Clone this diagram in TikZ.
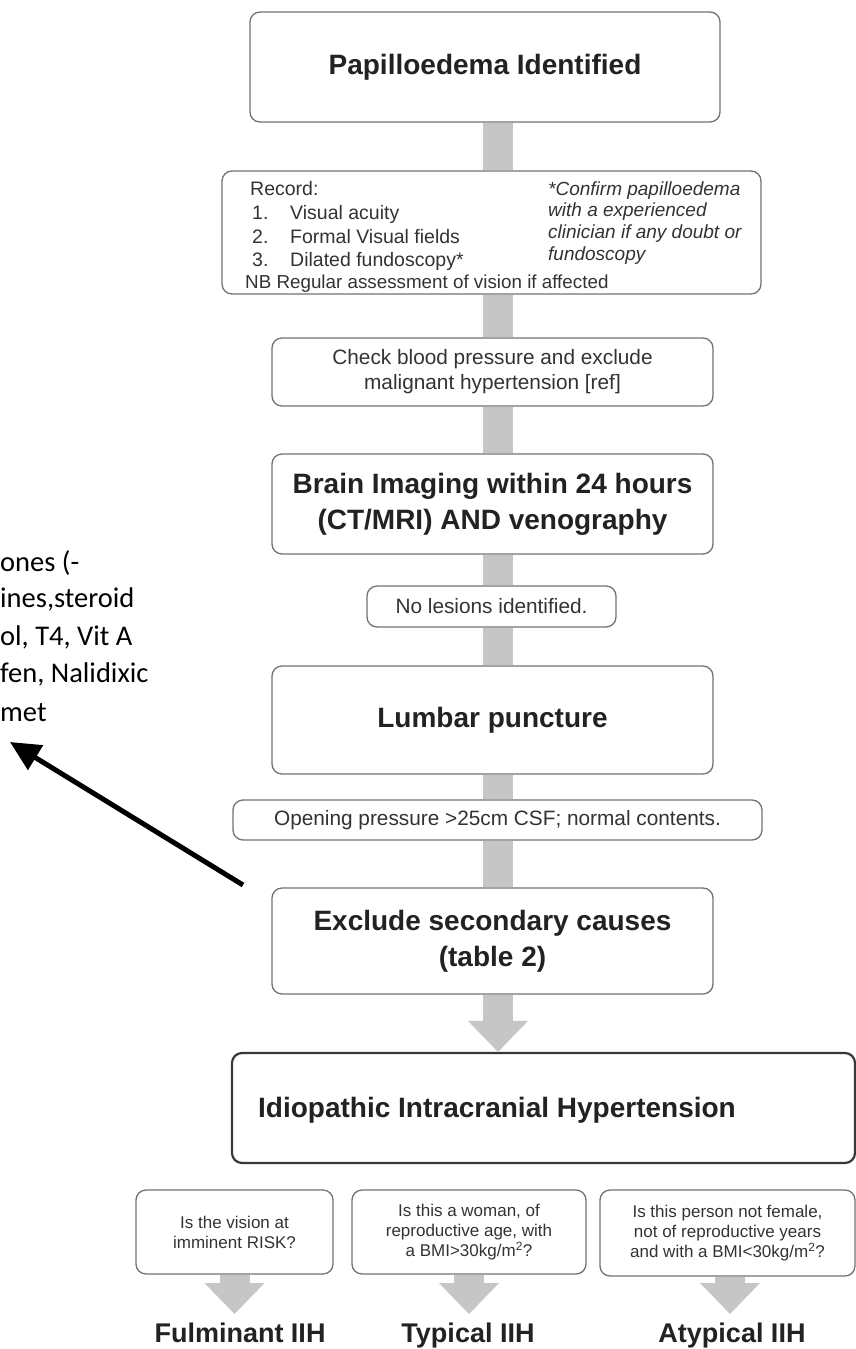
\documentclass[tikz,border=0pt]{standalone}
\usepackage{fontspec}
\setmainfont{Liberation Sans}
\newfontfamily\calib{Carlito}
\usetikzlibrary{arrows.meta,backgrounds}
\definecolor{barc}{HTML}{C6C6C6}
\definecolor{edge}{HTML}{727272}
\definecolor{txt}{HTML}{333333}
\definecolor{hd}{HTML}{222222}
\begin{document}
\begin{tikzpicture}[x=1pt,y=-1pt,
  box/.style={draw=edge, line width=1.3pt, rounded corners=10pt, fill=white, inner sep=0pt, align=center, text=txt},
  bigt/.style={font=\fontsize{28}{36}\selectfont\bfseries, text=hd},
  smallt/.style={font=\fontsize{20.8}{25}\selectfont, text=txt},
  rtext/.style={font=\fontsize{19.5}{22}\selectfont, text=txt, inner sep=0pt, anchor=base west},
  ntext/.style={font=\fontsize{18.8}{22}\selectfont, text=txt, inner sep=0pt, anchor=base west},
  itext/.style={font=\fontsize{19}{22}\selectfont\itshape, text=txt, inner sep=0pt, anchor=base west},
  qtext/.style={font=\fontsize{17}{20}\selectfont, text=txt},
  lab/.style={font=\fontsize{27}{30}\selectfont\bfseries, text=hd, inner sep=0pt, anchor=base},
  side/.style={font=\calib\fontsize{28.5}{30}\selectfont, text=black, inner sep=0pt, anchor=base west},
  bar/.style={draw=barc, line width=30pt},
  headtip/.style={-{Triangle[width=60pt,length=31pt,line width=0pt]}},
]
\useasboundingbox (0,0) rectangle (856,1349);

% main column
\node[box, minimum width=470pt, minimum height=110pt] (b1) at (485,67) {\fontsize{28}{34}\selectfont\bfseries\color{hd}Papilloedema Identified};
\node[box, minimum width=539pt, minimum height=123pt] (b2) at (491.5,232.5) {};
\node[box, smallt, minimum width=441pt, minimum height=68pt] (b3) at (492.5,372) {Check blood pressure and exclude\\malignant hypertension [ref]};
\node[box, bigt, minimum width=441pt, minimum height=100pt] (b4) at (492.5,504) {Brain Imaging within 24 hours\\(CT/MRI) AND venography};
\node[box, smallt, minimum width=249pt, minimum height=41pt] (b5) at (491.5,606.5) {No lesions identified.};
\node[box, bigt, minimum width=441pt, minimum height=108pt] (b6) at (492.5,720) {Lumbar puncture};
\node[box, smallt, minimum width=529pt, minimum height=40pt] (b7) at (497.5,820) {Opening pressure >25cm CSF; normal contents.};
\node[box, bigt, minimum width=441pt, minimum height=106pt] (b8) at (492.5,941) {Exclude secondary causes\\(table 2)};
\node[box, draw=hd!90, line width=2.2pt, minimum width=623pt, minimum height=110pt] (b9) at (543.5,1108) {};
\node[bigt, inner sep=0pt] (t9) at (497,1110) {Idiopathic Intracranial Hypertension};

% record box contents
\node[rtext] (r0) at (250,195) {Record:};
\node[rtext] (r1n) at (252,219) {1.};
\node[rtext] (r1) at (290,219) {Visual acuity};
\node[rtext] (r2n) at (252,243) {2.};
\node[rtext] (r2) at (290,243) {Formal Visual fields};
\node[rtext] (r3n) at (252,266) {3.};
\node[rtext] (r3) at (290,266) {Dilated fundoscopy*};
\node[ntext] (r4) at (245,288) {NB Regular assessment of vision if affected};
\node[itext] (i1) at (548,195) {*Confirm papilloedema};
\node[itext] (i2) at (548,216) {with a experienced};
\node[itext] (i3) at (548,238) {clinician if any doubt or};
\node[itext] (i4) at (548,260) {fundoscopy};

% bottom questions
\node[box, qtext, minimum width=197pt, minimum height=84pt] (qa) at (234.5,1232) {Is the vision at\\imminent RISK?};
\node[box, qtext, minimum width=234pt, minimum height=84pt] (qb) at (469,1232) {Is this a woman, of\\reproductive age, with\\a BMI>30kg/m\textsuperscript{2}?};
\node[box, qtext, minimum width=255pt, minimum height=86pt] (qc) at (727.5,1233) {Is this person not female,\\not of reproductive years\\and with a BMI<30kg/m\textsuperscript{2}?};

\node[lab] (la) at (240,1342) {Fulminant IIH};
\node[lab] (lb) at (468,1342) {Typical IIH};
\node[lab] (lc) at (732,1342) {Atypical IIH};

\coordinate (ta) at (234.5,1314);
\coordinate (tb) at (469,1314);
\coordinate (tc) at (730,1314);

% grey connectors
\coordinate (bx) at (498,0);
\begin{scope}[on background layer]
\fill[white] (0,0) rectangle (856,1349);
\draw[bar] (b1.south -| bx) -- (b2.north -| bx);
\draw[bar] (b2.south -| bx) -- (b3.north -| bx);
\draw[bar] (b3.south -| bx) -- (b4.north -| bx);
\draw[bar] (b4.south -| bx) -- (b5.north -| bx);
\draw[bar] (b5.south -| bx) -- (b6.north -| bx);
\draw[bar] (b6.south -| bx) -- (b7.north -| bx);
\draw[bar] (b7.south -| bx) -- (b8.north -| bx);
\end{scope}
\draw[bar, headtip] (b8.south -| bx) -- (b9.north -| bx);
\draw[bar, headtip] (qa.south) -- (ta);
\draw[bar, headtip] (qb.south) -- (tb);
\draw[bar, headtip] (qc.south -| tc) -- (tc);

% side text (cut off at the left edge)
\node[side] (s1) at (0,571) {ones (-};
\node[side] (s2) at (0,607) {ines,steroid};
\node[side] (s3) at (0,645) {ol, T4, Vit A};
\node[side] (s4) at (0,682) {fen, Nalidixic};
\node[side] (s5) at (0,721) {met};

\coordinate (bstart) at (243,885);
\coordinate (btip) at (10,742);
\draw[line width=5pt, -{Triangle[length=30pt,width=28pt]}] (bstart) -- (btip);
\end{tikzpicture}
\end{document}
